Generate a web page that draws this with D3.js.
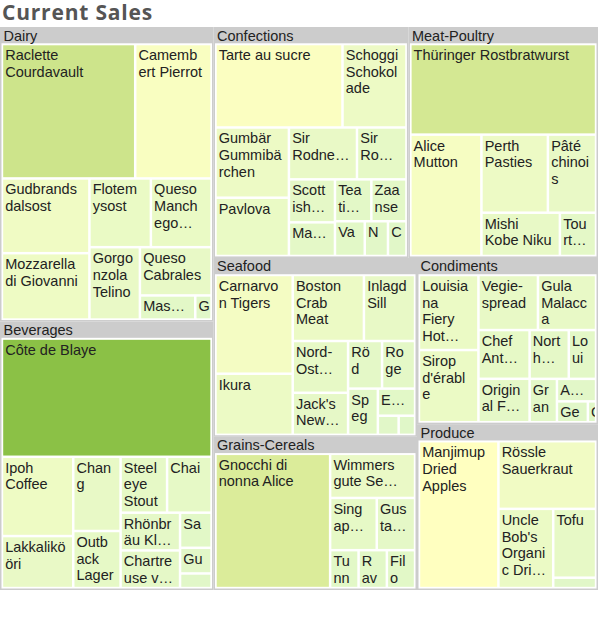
<!DOCTYPE html>
<html>
<head>
<meta charset="utf-8">
<title>Current Sales</title>
<script src="https://d3js.org/d3.v7.min.js"></script>
<style>
  body { margin: 0; background: #fff; }
  svg text { font-family: "Liberation Sans", Arial, sans-serif; }
</style>
</head>
<body>
<svg id="chart" width="598" height="623"></svg>
<script>
// category order and product sales
var categories = ["Dairy", "Beverages", "Confections", "Meat-Poultry", "Seafood", "Grains-Cereals", "Condiments", "Produce"];

var dairyNames = ["Raclette Courdavault", "Camembert Pierrot", "Gudbrandsdalsost", "Mozzarella di Giovanni", "Flotemysost",
    "Queso Manchego La Pastora", "Gorgonzola Telino", "Queso Cabrales", "Mascarpone Fabioli", "Geitost"];
var dairySales = [35775, 20505, 13063, 11603, 8439, 8335, 7301, 6912, 2668, 786];

var beverageNames = ["Côte de Blaye", "Ipoh Coffee", "Lakkalikööri", "Chang", "Outback Lager", "Steeleye Stout", "Chai",
    "Rhönbräu Klosterbier", "Chartreuse verte", "Sasquatch Ale", "Guaraná Fantástica", "Laughing Lumberjack Lager"];
var beverageSales = [49840, 11365, 7455, 7068, 5434, 5226, 5001, 4517, 4500, 2227, 1626, 925];

var confectionNames = ["Tarte au sucre", "Schoggi Schokolade", "Gumbär Gummibärchen", "Pavlova", "Sir Rodney's Marmalade",
    "Sir Rodney's Scones", "Scottish Longbreads", "Maxilaku", "Teatime Chocolate Biscuits", "Zaanse koeken",
    "Valkoinen suklaa", "NuNuCa Nuß-Nougat-Creme", "Chocolade"];
var confectionSales = [21622, 10888, 10525, 8733, 7206, 5240, 4040, 3160, 3110, 3000, 2112, 1645, 1312];

var meatNames = ["Thüringer Rostbratwurst", "Alice Mutton", "Perth Pasties", "Pâté chinois", "Mishi Kobe Niku", "Tourtière"];
var meatSales = [34325, 17609, 10591, 7678, 6934, 3197];

var seafoodNames = ["Carnarvon Tigers", "Ikura", "Boston Crab Meat", "Inlagd Sill", "Nord-Ost Matjeshering",
    "Jack's New England Clam Chowder", "Röd Kaviar", "Rogede sild", "Spegesild", "Escargots de Bourgogne",
    "Gravad lax", "Konbu"];
var seafoodSales = [15962, 9881, 9839, 7065, 6002, 4872, 3388, 3287, 2883, 2110, 832, 657];

var grainNames = ["Gnocchi di nonna Alice", "Wimmers gute Semmelknödel", "Singaporean Hokkien Fried Mee",
    "Gustaf's Knäckebröd", "Tunnbröd", "Ravioli Angelo", "Filo Mix"];
var grainSales = [32866, 8002, 5200, 4270, 2300, 2290, 2280];

var condimentNames = ["Louisiana Fiery Hot Pepper Sauce", "Sirop d'érable", "Vegie-spread", "Gula Malacca",
    "Chef Anton's Cajun Seasoning", "Original Frankfurter grüne Soße", "Northwoods Cranberry Sauce",
    "Louisiana Hot Spiced Okra", "Grandma's Boysenberry Spread", "Aniseed Syrup", "Genen Shouyu", "Chef Anton's Gumbo Mix"];
var condimentSales = [9453, 9088, 6938, 6776, 5279, 4702, 4049, 2819, 2511, 1864, 1365, 361];

var produceNames = ["Manjimup Dried Apples", "Rössle Sauerkraut", "Uncle Bob's Organic Dried Pears", "Tofu", "Longlife Tofu"];
var produceSales = [24708, 13989, 9191, 6246, 940];

var productNames = [dairyNames, beverageNames, confectionNames, meatNames, seafoodNames, grainNames, condimentNames, produceNames];
var productSales = [dairySales, beverageSales, confectionSales, meatSales, seafoodSales, grainSales, condimentSales, produceSales];

var width = 598, top0 = 27, height = 563;
var fontSize = 14.5, lineH = 16.7;

var svg = d3.select("#chart");

svg.append("text")
    .attr("x", 2).attr("y", 19.5)
    .style("font-family", "'Open Sans', sans-serif")
    .style("font-weight", 700)
    .style("font-size", "21px")
    .style("letter-spacing", "0.8px")
    .attr("fill", "#555")
    .text("Current Sales");

var tree = {
    name: "all",
    children: categories.map(function(c, i) {
        return {
            name: c,
            children: productNames[i].map(function(n, j) { return { name: n, value: productSales[i][j] }; })
        };
    })
};

var root = d3.hierarchy(tree)
    .sum(function(d) { return d.value || 0; })
    .sort(function(a, b) { return b.value - a.value; });

d3.treemap()
    .tile(d3.treemapSquarify.ratio(1))
    .size([width, height])
    .paddingTop(function(d) { return d.depth === 1 ? 18.3 : 0; })
    .paddingLeft(function(d) { return d.depth === 1 ? 3.2 : 0; })
    .paddingRight(function(d) { return d.depth === 1 ? 3.2 : 0; })
    .paddingBottom(function(d) { return d.depth === 1 ? 3.2 : 0; })
    .paddingInner(function(d) { return d.depth === 1 ? 2.5 : 0; })
    (root);

var leaves = root.leaves();
var minV = d3.min(leaves, function(d) { return d.value; });
var maxV = d3.max(leaves, function(d) { return d.value; });
var color = d3.scaleLinear()
    .domain([minV, (minV + maxV) / 2, maxV])
    .range(["#e0f7c8", "#ffffc0", "#8bc146"]);

var g = svg.append("g").attr("transform", "translate(0," + top0 + ")");

// categories
var cats = g.selectAll("g.cat").data(root.children).join("g").attr("class", "cat");
cats.append("rect")
    .attr("x", function(d) { return d.x0; })
    .attr("y", function(d) { return d.y0; })
    .attr("width", function(d) { return d.x1 - d.x0; })
    .attr("height", function(d) { return d.y1 - d.y0; })
    .attr("fill", "#cccccc");
cats.append("rect")
    .attr("x", function(d) { return d.x0 + 1.5; })
    .attr("y", function(d) { return d.y0 + 16.3; })
    .attr("width", function(d) { return d.x1 - d.x0 - 3; })
    .attr("height", function(d) { return d.y1 - d.y0 - 17.8; })
    .attr("fill", "#fff");
cats.append("text")
    .attr("x", function(d) { return d.x0 + 3.5; })
    .attr("y", function(d) { return d.y0 + 13.5; })
    .style("font-size", fontSize + "px")
    .attr("fill", "#222")
    .text(function(d) { return d.data.name; });

// text measuring + wrapping
var ctx = document.createElement("canvas").getContext("2d");
ctx.font = fontSize + "px 'Liberation Sans'";
function measure(s) { return ctx.measureText(s).width; }

function wrapLines(text, avail) {
    var tokens = [];
    text.split(" ").forEach(function(w, i) {
        w.split(/(?<=-)/).forEach(function(p, k) { tokens.push({ t: p, sp: i > 0 && k === 0 }); });
    });
    var lines = [], cur = "";
    tokens.forEach(function(tok) {
        var sep = (cur && tok.sp) ? " " : "";
        if (cur && measure(cur + sep + tok.t) <= avail) { cur += sep + tok.t; return; }
        if (cur) { lines.push(cur); cur = ""; }
        if (measure(tok.t) <= avail) { cur = tok.t; return; }
        var s = "";
        Array.from(tok.t).forEach(function(ch) {
            if (s === "" || measure(s + ch) <= avail) s += ch;
            else { lines.push(s); s = ch; }
        });
        cur = s;
    });
    if (cur) lines.push(cur);
    return lines;
}

function labelLines(text, w, h) {
    var maxLines = Math.floor((h - 0.5) / lineH);
    if (maxLines < 1) return [];
    var avail = w - 7.5;
    var lines = wrapLines(text, avail);
    if (lines.length <= maxLines) return lines;
    var shown = lines.slice(0, maxLines);
    var off = 0;
    for (var i = 0; i < maxLines - 1; i++) off = text.indexOf(shown[i], off) + shown[i].length;
    var rest = text.slice(off).trim();
    var lastEnd = text.indexOf(shown[maxLines - 1], off) + shown[maxLines - 1].length;
    var midWord = lastEnd < text.length && text[lastEnd] !== " ";
    if (w > 35 || (midWord && w > 33)) {
        for (var k = rest.length - 1; k >= 1; k--) {
            var p = rest.slice(0, k).trimEnd();
            if (p && measure(p + "…") <= avail) { shown[maxLines - 1] = p + "…"; return shown; }
        }
    }
    return shown;
}

// products
var tiles = g.selectAll("g.leaf").data(leaves).join("g").attr("class", "leaf");
tiles.append("clipPath")
    .attr("id", function(d, i) { return "clip" + i; })
    .append("rect")
    .attr("x", function(d) { return d.x0; })
    .attr("y", function(d) { return d.y0; })
    .attr("width", function(d) { return d.x1 - d.x0; })
    .attr("height", function(d) { return d.y1 - d.y0; });
tiles.append("rect")
    .attr("x", function(d) { return d.x0; })
    .attr("y", function(d) { return d.y0; })
    .attr("width", function(d) { return d.x1 - d.x0; })
    .attr("height", function(d) { return d.y1 - d.y0; })
    .attr("fill", function(d) { return color(d.value); });
tiles.append("text")
    .attr("clip-path", function(d, i) { return "url(#clip" + i + ")"; })
    .style("font-size", fontSize + "px")
    .attr("fill", "#222")
    .selectAll("tspan")
    .data(function(d) {
        return labelLines(d.data.name, d.x1 - d.x0, d.y1 - d.y0).map(function(t, i) {
            return { t: t, x: d.x0 + 2, y: d.y0 + 14.7 + i * lineH };
        });
    })
    .join("tspan")
    .attr("x", function(d) { return d.x; })
    .attr("y", function(d) { return d.y; })
    .text(function(d) { return d.t; });
</script>
</body>
</html>
